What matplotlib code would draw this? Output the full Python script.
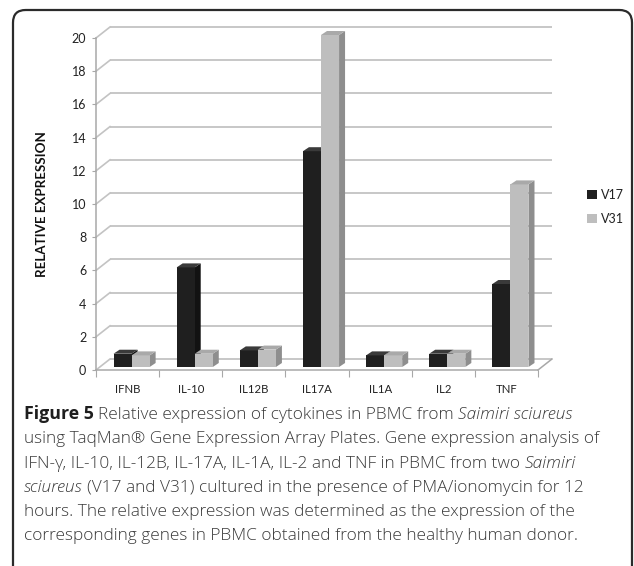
import matplotlib
matplotlib.use('Agg')
import matplotlib.pyplot as plt
from matplotlib.patches import Polygon, FancyBboxPatch
from matplotlib.transforms import ScaledTranslation

# ---------------- data ----------------
categories = ['IFNB', 'IL-10', 'IL12B', 'IL17A', 'IL1A', 'IL2', 'TNF']
v17 = [0.8, 6.0, 1.0, 13.0, 0.7, 0.8, 5.0]
v31 = [0.7, 0.8, 1.05, 20.0, 0.7, 0.8, 11.0]
series_names = ['V17', 'V31']
yticks = list(range(0, 21, 2))
y_label = 'RELATIVE EXPRESSION'

caption_lines = [
    [("Figure 5", 'b'), ("Relative expression of cytokines in PBMC from", 'n'), ("Saimiri sciureus", 'i')],
    [("using TaqMan® Gene Expression Array Plates. Gene expression analysis of", 'n')],
    [("IFN-γ, IL-10, IL-12B, IL-17A, IL-1A, IL-2 and TNF in PBMC from two", 'n'), ("Saimiri", 'i')],
    [("sciureus", 'i'), ("(V17 and V31) cultured in the presence of PMA/ionomycin for 12", 'n')],
    [("hours. The relative expression was determined as the expression of the", 'n')],
    [("corresponding genes in PBMC obtained from the healthy human donor.", 'n')],
]

# ---------------- figure ----------------
W, H, DPI = 634, 566, 100
fig = plt.figure(figsize=(W / DPI, H / DPI), dpi=DPI)
fig.patch.set_facecolor('white')

AX_L, AX_R, AX_T, AX_B = 96, 538, 38, 370
ax = fig.add_axes([AX_L / W, 1 - AX_B / H, (AX_R - AX_L) / W, (AX_B - AX_T) / H])
ax.set_xlim(0, len(categories))
ax.set_ylim(0, 20)
ax.patch.set_visible(False)

sx = len(categories) / (AX_R - AX_L)   # data units per pixel
sy = 20 / (AX_B - AX_T)

def off(dx, dy):
    return ax.transData + ScaledTranslation(dx / DPI, dy / DPI, fig.dpi_scale_trans)

WDX, WDY = 14, 11   # back wall depth (px)
grid_c = '#c3c3c3'
axis_c = '#a8a8a8'

# back-wall gridlines
ax.hlines(yticks, 0, len(categories), transform=off(WDX, WDY), color=grid_c, lw=1.3, zorder=1, clip_on=False)
for y in yticks:
    ax.plot([0, WDX * sx], [y, y + WDY * sy], color=grid_c, lw=1.2, zorder=1, clip_on=False)
ax.plot([len(categories), len(categories) + WDX * sx], [0, WDY * sy], color=axis_c, lw=1.1, zorder=1, clip_on=False)

# spines / ticks
for s in ['top', 'right']:
    ax.spines[s].set_visible(False)
for s in ['left', 'bottom']:
    ax.spines[s].set_color(axis_c)
    ax.spines[s].set_linewidth(1.1)

ax.set_yticks(yticks)
ax.set_yticklabels([str(t) for t in yticks], fontfamily='Lato', fontsize=9, color='#222222')
ax.tick_params(axis='y', length=3, color=axis_c, pad=4)

ax.set_xticks(range(len(categories) + 1))
ax.set_xticklabels([])
ax.tick_params(axis='x', which='major', length=5, color=axis_c)
ax.set_xticks([i + 0.5 for i in range(len(categories))], minor=True)
ax.set_xticklabels(categories, minor=True, fontfamily='Lato', fontsize=8.2, color='#222222')
ax.tick_params(axis='x', which='minor', length=0, pad=10)

ax.set_ylabel(y_label, fontfamily='Lato', fontweight='bold', fontsize=9.6, color='#111111', labelpad=17)

# ---------------- 3D-looking bars ----------------
bw = 0.286
BDX, BDY = 6, 4     # bar depth (px)
bar_tr = off(4, 3)
styles = [
    dict(front='#1f1f1f', top='#3a3a3a', side='#121212'),
    dict(front='#bebebe', top='#a9a9a9', side='#8e8e8e'),
]
handles = []
for i in range(len(categories)):
    for k, vals in enumerate([v17, v31]):
        st = styles[k]
        x0 = i + 0.5 - bw + k * bw
        x1 = x0 + bw
        v = vals[i]
        z = 2 + i * 0.1 + k * 0.05
        side = Polygon([(x1, 0), (x1 + BDX * sx, BDY * sy), (x1 + BDX * sx, v + BDY * sy), (x1, v)],
                       closed=True, facecolor=st['side'], edgecolor='none', transform=bar_tr, zorder=z, clip_on=False)
        ax.add_patch(side)
        b = ax.bar(x0, v, width=bw, align='edge', color=st['front'], transform=bar_tr, zorder=z + 0.01,
                   clip_on=False, label=series_names[k] if i == 0 else None)
        top = Polygon([(x0, v), (x1, v), (x1 + BDX * sx, v + BDY * sy), (x0 + BDX * sx, v + BDY * sy)],
                      closed=True, facecolor=st['top'], edgecolor='none', transform=bar_tr, zorder=z + 0.02, clip_on=False)
        ax.add_patch(top)
        if i == 0:
            handles.append(b)

leg = fig.legend(handles=handles, labels=series_names, loc='center left',
                 bbox_to_anchor=(576 / W, 1 - 207 / H), frameon=False,
                 handlelength=0.75, handleheight=0.75, handletextpad=0.35, labelspacing=1.0,
                 prop=dict(family='Lato', size=9))
for t in leg.get_texts():
    t.set_color('#222222')

# ---------------- border ----------------
border = FancyBboxPatch((13 / W, -0.05), (632 - 13) / W, 1.05 - 10 / H,
                        boxstyle='round,pad=0,rounding_size=0.02', transform=fig.transFigure,
                        facecolor='none', edgecolor='#2b2b2b', lw=1.6, clip_on=False, mutation_aspect=W / H)
fig.patches.append(border)

# ---------------- caption ----------------
cap_font = 'Open Sans'
cap_size = 12.4
cap_x = 24
cap_y0 = 419
cap_dy = 24.3
space_pt = 3.2
for li, line in enumerate(caption_lines):
    yb = 1 - (cap_y0 + li * cap_dy) / H
    prev = None
    for seg, sty in line:
        kw = dict(fontfamily=cap_font, fontsize=cap_size, color='#3a3a3a', fontweight='light')
        if sty == 'b':
            kw.update(fontweight='bold', fontsize=cap_size + 0.4, color='#1e1e1e')
        elif sty == 'i':
            kw.update(fontstyle='italic')
        if prev is None:
            prev = fig.text(cap_x / W, yb, seg, ha='left', va='baseline', **kw)
        else:
            prev = ax.annotate(seg, xy=(1, 0), xycoords=prev, xytext=(space_pt, 0),
                               textcoords='offset points', ha='left', va='bottom',
                               annotation_clip=False, **kw)

fig.savefig('out.png', dpi=DPI)
